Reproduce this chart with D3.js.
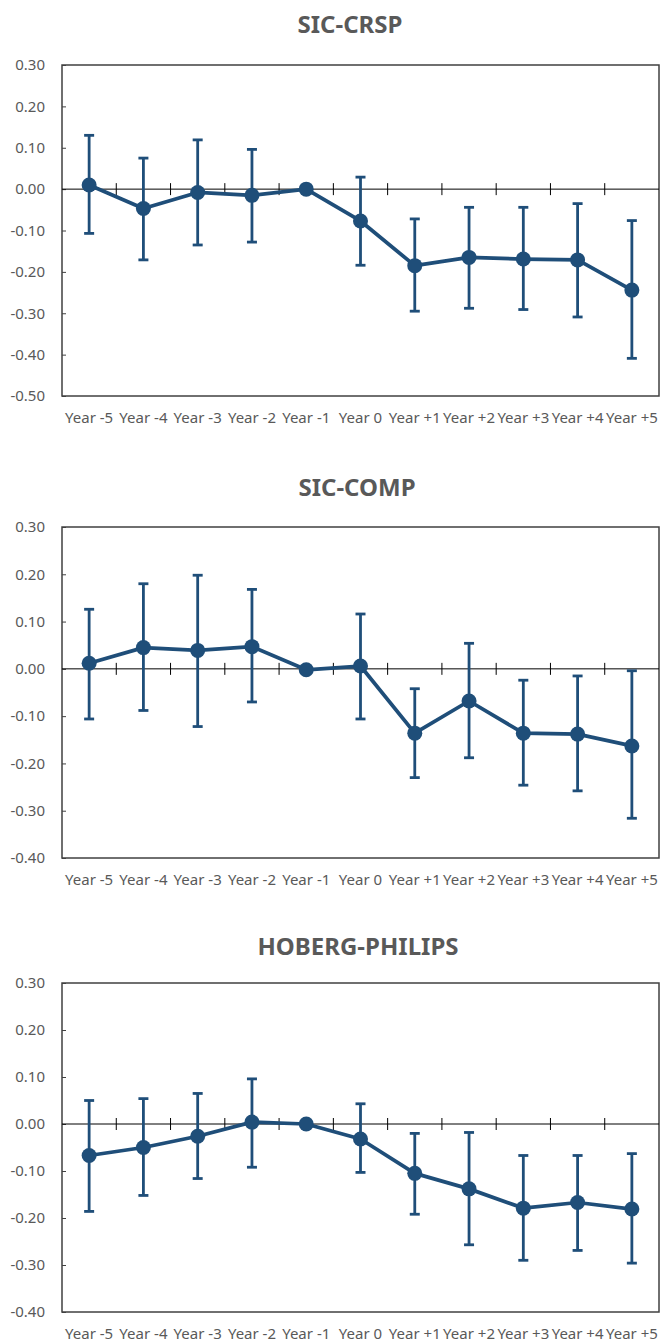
<!DOCTYPE html>
<html>
<head>
<meta charset="utf-8">
<script src="https://cdn.jsdelivr.net/npm/d3@7"></script>
<style>
  body { margin: 0; background: #fff; }
  text { font-family: "Noto Sans", sans-serif; }
</style>
</head>
<body>
<div id="chart-area"></div>
<script>
const width = 660, height = 1343,
    left = 62, right = 659;

//--------------------------- DATA
const categories = ["Year -5", "Year -4", "Year -3", "Year -2", "Year -1", "Year 0",
  "Year +1", "Year +2", "Year +3", "Year +4", "Year +5"];

const titles = ["SIC-CRSP", "SIC-COMP", "HOBERG-PHILIPS"];

const sicCrsp   = [0.010, -0.047, -0.008, -0.015, 0.000, -0.077, -0.185, -0.165, -0.169, -0.171, -0.244];
const sicCrspLo = [-0.107, -0.171, -0.135, -0.128, 0.000, -0.184, -0.295, -0.288, -0.291, -0.309, -0.409];
const sicCrspHi = [0.130, 0.075, 0.119, 0.096, 0.000, 0.029, -0.072, -0.044, -0.044, -0.035, -0.076];

const sicComp   = [0.012, 0.045, 0.039, 0.047, -0.002, 0.006, -0.136, -0.068, -0.136, -0.138, -0.163];
const sicCompLo = [-0.106, -0.088, -0.122, -0.070, -0.002, -0.106, -0.230, -0.188, -0.246, -0.258, -0.316];
const sicCompHi = [0.126, 0.180, 0.198, 0.168, -0.002, 0.116, -0.042, 0.054, -0.024, -0.015, -0.004];

const hoberg   = [-0.067, -0.050, -0.026, 0.004, 0.000, -0.032, -0.105, -0.138, -0.179, -0.167, -0.181];
const hobergLo = [-0.186, -0.152, -0.116, -0.092, 0.000, -0.103, -0.192, -0.257, -0.290, -0.269, -0.296];
const hobergHi = [0.050, 0.054, 0.065, 0.096, 0.000, 0.043, -0.020, -0.018, -0.067, -0.067, -0.063];

const yTicks1 = [0.30, 0.20, 0.10, 0.00, -0.10, -0.20, -0.30, -0.40, -0.50];
const yTicks23 = [0.30, 0.20, 0.10, 0.00, -0.10, -0.20, -0.30, -0.40];

// panel layout (pixels) kept apart from the values
const panels = [
  {title: titles[0], mean: sicCrsp, lo: sicCrspLo, hi: sicCrspHi, ticks: yTicks1, top: 65, bottom: 396, titleX: 350, titleY: 33},
  {title: titles[1], mean: sicComp, lo: sicCompLo, hi: sicCompHi, ticks: yTicks23, top: 527, bottom: 858, titleX: 357, titleY: 496},
  {title: titles[2], mean: hoberg, lo: hobergLo, hi: hobergHi, ticks: yTicks23, top: 983, bottom: 1312, titleX: 358, titleY: 955}
];

const blue = "#1f4e79", grey = "#595959";

//--------------------------- SVG
const svg = d3.select("#chart-area")
  .append("svg")
    .attr("width", width)
    .attr("height", height);

const x = d3.scaleBand()
  .domain(categories)
  .range([left, right])
  .paddingInner(0).paddingOuter(0);

panels.forEach(p => {
  const g = svg.append("g");

  const y = d3.scaleLinear()
    .domain([d3.min(p.ticks), d3.max(p.ticks)])
    .range([p.bottom, p.top]);

  const cx = c => x(c) + x.bandwidth() / 2;
  const rows = categories.map((c, i) => ({c: c, v: p.mean[i], lo: p.lo[i], hi: p.hi[i]}));

  // title
  g.append("text")
    .attr("x", p.titleX)
    .attr("y", p.titleY)
    .attr("text-anchor", "middle")
    .attr("font-size", 24)
    .attr("font-weight", "bold")
    .attr("fill", grey)
    .text(p.title);

  // Y axis labels
  const yAxis = g.append("g")
    .attr("transform", `translate(${left},0)`)
    .call(d3.axisLeft(y)
      .tickValues(p.ticks)
      .tickFormat(d => d.toFixed(2))
      .tickSize(-4)
      .tickPadding(17));
  yAxis.select(".domain").remove();
  yAxis.selectAll("line").attr("stroke", "#404040");
  yAxis.selectAll("text")
    .attr("font-size", 15)
    .attr("font-family", "Noto Sans")
    .attr("fill", grey);

  // X labels at the bottom
  const xAxis = g.append("g")
    .attr("transform", `translate(0,${p.bottom})`)
    .call(d3.axisBottom(x).tickSize(0).tickPadding(16));
  xAxis.select(".domain").remove();
  xAxis.selectAll("text")
    .attr("font-size", 15)
    .attr("font-family", "Noto Sans")
    .attr("fill", grey);

  // frame
  g.append("rect")
    .attr("x", left)
    .attr("y", p.top)
    .attr("width", right - left)
    .attr("height", p.bottom - p.top)
    .attr("fill", "none")
    .attr("stroke", "#404040")
    .attr("stroke-width", 1.5);

  // zero line with cross ticks at category boundaries
  g.append("line")
    .attr("x1", left).attr("x2", right)
    .attr("y1", y(0)).attr("y2", y(0))
    .attr("stroke", "#000")
    .attr("stroke-width", 1);

  g.selectAll(".xtick")
    .data(categories.slice(1))
    .join("line")
      .attr("class", "xtick")
      .attr("x1", d => x(d)).attr("x2", d => x(d))
      .attr("y1", y(0) - 6).attr("y2", y(0) + 6)
      .attr("stroke", "#000")
      .attr("stroke-width", 1);

  // error bars
  const bars = rows.filter(d => d.hi !== d.lo);
  g.selectAll(".err")
    .data(bars)
    .join("line")
      .attr("class", "err")
      .attr("x1", d => cx(d.c)).attr("x2", d => cx(d.c))
      .attr("y1", d => y(d.hi)).attr("y2", d => y(d.lo))
      .attr("stroke", blue)
      .attr("stroke-width", 2.8);

  ["hi", "lo"].forEach(k => {
    g.selectAll(".cap-" + k)
      .data(bars)
      .join("line")
        .attr("class", "cap-" + k)
        .attr("x1", d => cx(d.c) - 5).attr("x2", d => cx(d.c) + 5)
        .attr("y1", d => y(d[k])).attr("y2", d => y(d[k]))
        .attr("stroke", blue)
        .attr("stroke-width", 2.8);
  });

  // mean line + markers
  g.append("path")
    .datum(rows)
    .attr("fill", "none")
    .attr("stroke", blue)
    .attr("stroke-width", 3.75)
    .attr("stroke-linejoin", "round")
    .attr("d", d3.line().x(d => cx(d.c)).y(d => y(d.v)));

  g.selectAll(".dot")
    .data(rows)
    .join("circle")
      .attr("class", "dot")
      .attr("cx", d => cx(d.c))
      .attr("cy", d => y(d.v))
      .attr("r", 7.5)
      .attr("fill", blue);
});
</script>
</body>
</html>
